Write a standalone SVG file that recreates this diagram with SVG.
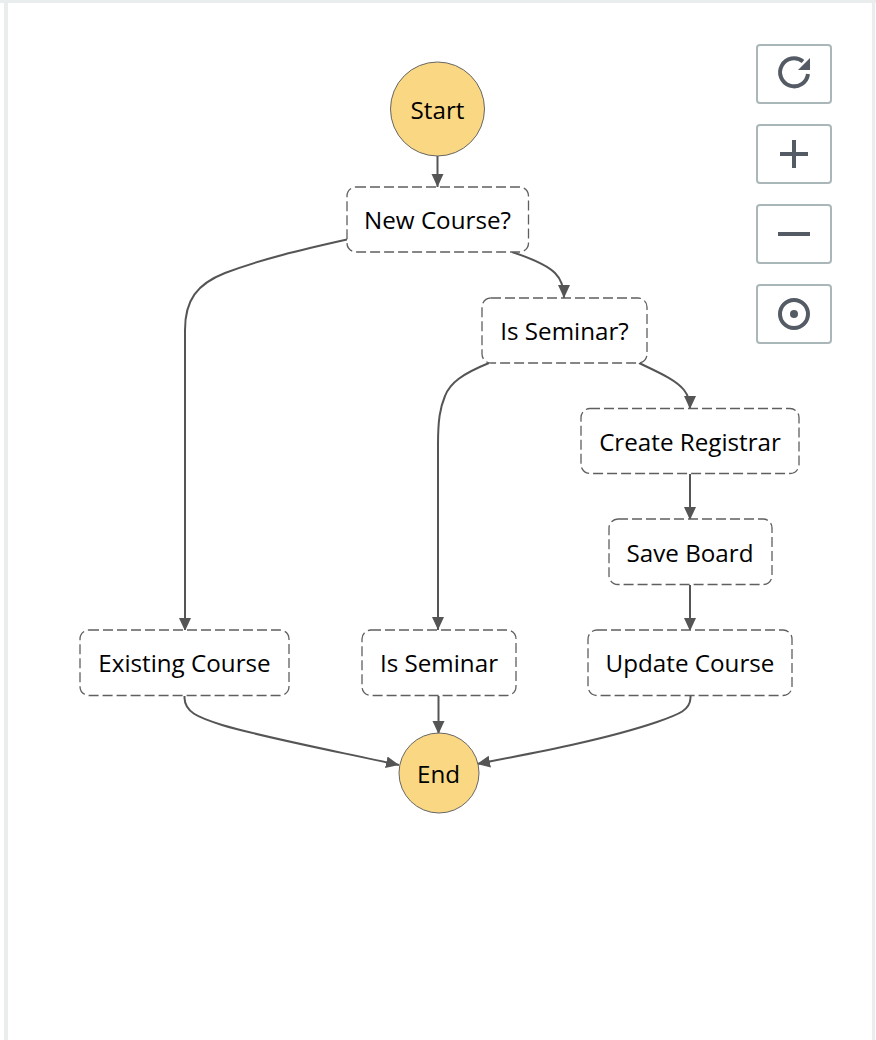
<svg xmlns="http://www.w3.org/2000/svg" width="876" height="1040" viewBox="0 0 876 1040">
<style>
.band{fill:#eaeded}
.state{fill:#fff;stroke:#5f5f5f;stroke-width:1.300;stroke-dasharray:10 4}
.term{fill:#fad883;stroke:#666;stroke-width:1}
.label{font-family:"Open Sans","Noto Sans","Liberation Sans",sans-serif;font-size:24.200px;fill:#000;text-anchor:middle}
.edge{fill:none;stroke:#555;stroke-width:2;marker-end:url(#arrow)}
.btn{fill:#fff;stroke:#aab7b8;stroke-width:2}
.icon{fill:none;stroke:#545b64;stroke-width:4}
.iconf{fill:#545b64}
</style>
<defs>
<marker id="arrow" markerUnits="userSpaceOnUse" markerWidth="14" markerHeight="14" refX="13" refY="7" orient="auto">
<path d="M0 1L13 7L0 13Z" fill="#555"/>
</marker>
</defs>
<rect width="876" height="1040" fill="#fff"/>
<rect class="band" x="0" y="0" width="876" height="3"/>
<rect class="band" x="4" y="3" width="4" height="1037"/>
<rect class="band" x="872" y="3" width="3" height="1037"/>
<g id="connectors">
<path class="edge" d="M437.500 156V187"/>
<path class="edge" d="M347 239.500C300 250 262 259 225 273C197 284 185 300 185 330V631"/>
<path class="edge" d="M512 252C530 258 548 266 555 273C561 279 564 286 564 298"/>
<path class="edge" d="M489 363C462 374 450 383 445 396C440 408 438 420 438 445V630"/>
<path class="edge" d="M639 363C660 373 676 380 684 390C688 395 690 400 690 409"/>
<path class="edge" d="M690 474V520"/>
<path class="edge" d="M690 585V631"/>
<path class="edge" d="M184.500 696V698C185 712 197 717 222 725C262 737 330 750 399 765"/>
<path class="edge" d="M438.500 696V734"/>
<path class="edge" d="M690.500 696V698C690 710 680 714 657 722C610 738 550 750 477 764"/>
</g>
<g id="start"><circle class="term" cx="437.500" cy="109" r="47"/><text class="label" x="437.500" y="119">Start</text></g>
<g id="new-course"><rect class="state" x="347" y="187" width="181.500" height="65" rx="9"/><text class="label" x="437.500" y="229">New Course?</text></g>
<g id="is-seminar-q"><rect class="state" x="482" y="298" width="165" height="65" rx="9"/><text class="label" x="564.500" y="340">Is Seminar?</text></g>
<g id="create-registrar"><rect class="state" x="581" y="408.500" width="218" height="65" rx="9"/><text class="label" x="690" y="451">Create Registrar</text></g>
<g id="save-board"><rect class="state" x="609" y="519" width="163" height="65.500" rx="9"/><text class="label" x="690" y="562">Save Board</text></g>
<g id="existing-course"><rect class="state" x="80" y="630" width="209" height="65.500" rx="9"/><text class="label" x="184.500" y="672">Existing Course</text></g>
<g id="is-seminar"><rect class="state" x="362" y="630" width="154" height="65.500" rx="9"/><text class="label" x="439" y="672">Is Seminar</text></g>
<g id="update-course"><rect class="state" x="588" y="630" width="204" height="65.500" rx="9"/><text class="label" x="690" y="672">Update Course</text></g>
<g id="end"><circle class="term" cx="439" cy="773" r="40"/><text class="label" x="438.500" y="783">End</text></g>
<g id="btn-refresh"><rect class="btn" x="757" y="45" width="74" height="58" rx="3"/><path class="icon" d="M803 61.500A14 14 0 1 0 808 74"/><path class="iconf" d="M798 70H810V58Z"/></g>
<g id="btn-plus"><rect class="btn" x="757" y="125" width="74" height="58" rx="3"/><path class="iconf" d="M780 152H792V140H796V152H808V156H796V168H792V156H780Z"/></g>
<g id="btn-minus"><rect class="btn" x="757" y="205" width="74" height="58" rx="3"/><rect class="iconf" x="778" y="232" width="32" height="4"/></g>
<g id="btn-center"><rect class="btn" x="757" y="285" width="74" height="58" rx="3"/><circle class="icon" cx="794" cy="314" r="14"/><circle class="iconf" cx="794" cy="314" r="4"/></g>
</svg>
